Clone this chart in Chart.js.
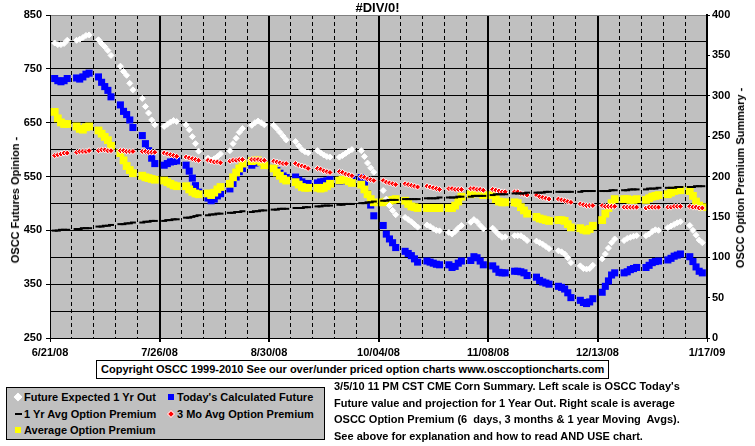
<!DOCTYPE html>
<html>
<head>
<meta charset="utf-8">
<script src="https://cdn.jsdelivr.net/npm/chart.js@4.4.0/dist/chart.umd.min.js"></script>
<style>
  html, body { margin: 0; padding: 0; background: #fff; }
  #wrap { position: relative; width: 755px; height: 446px; overflow: hidden;
          font-family: 'Liberation Sans', Arial, sans-serif; font-weight: bold; font-size: 11px; color: #000; }
  #chart { position: absolute; left: 0; top: 0; }
  .title { position: absolute; left: 0; top: 0; width: 755px; text-align: center; font-size: 13px; line-height: 15px; }
  .ytitle { position: absolute; white-space: nowrap; line-height: 12px; transform: translate(-50%, -50%) rotate(-90deg); }
  .copy { position: absolute; left: 96px; top: 360px; height: 17px; line-height: 17px; padding: 0 4px;
          border: 1px solid #000; background: #fff; white-space: nowrap; }
  .legend { position: absolute; left: 6px; top: 387px; width: 319px; height: 53px; background: #c0c0c0;
            border: 1px solid #000; box-sizing: border-box; padding: 1px 0 0 6px;
            display: grid; grid-template-columns: 153px 160px; grid-auto-rows: 16.5px; }
  .legend-item { display: flex; align-items: center; white-space: nowrap; }
  .legend-mark { width: 10px; height: 10px; display: flex; align-items: center; justify-content: center; margin-right: 1px; }
  .note { position: absolute; left: 334px; top: 378px; line-height: 16.5px; white-space: pre; }
</style>
</head>
<body>
<div id="wrap">
  <canvas id="chart" width="755" height="446"></canvas>
  <div class="title">#DIV/0!</div>
  <div class="ytitle" style="left:15px; top:200px;">OSCC Futures Opinion -</div>
  <div class="ytitle" style="left:740px; top:178px;">OSCC Option Premium Summary -</div>
  <div class="copy">Copyright OSCC 1999-2010 See our over/under priced option charts www.osccoptioncharts.com</div>
  <div class="legend" id="legend"></div>
  <div class="note">3/5/10 11 PM CST CME Corn Summary. Left scale is OSCC Today's
Future value and projection for 1 Year Out. Right scale is average
OSCC Option Premium (6  days, 3 months &amp; 1 year Moving  Avgs).
See above for explanation and how to read AND USE chart.</div>
</div>
<script>
// x axis: days counted from 6/21/08, one tick label every 5 weeks
const xTickLabels = ['6/21/08', '7/26/08', '8/30/08', '10/04/08', '11/08/08', '12/13/08', '1/17/09'];
const weekOffsets = [1.5, 2.5, 3.5, 4.5, 5.5];   // trading days inside each week
const weeks = 30;

// left scale (futures)
const futureExpected = [
  798, 795, 795, 797, 803,   803, 805, 808, 812, 813,   804, 797, 791, 784, 775,
  755, 745, 738, 723, 711,   695, 680, 668, 655, 646,   643, 647, 651, 654, 652,
  646, 637, 624, 611, 597,   584, 580, 583, 587, 592,   598, 611, 621, 632, 639,
  645, 650, 653, 650, 646,   645, 639, 632, 625, 618,   615, 607, 600, 596, 594,
  598, 594, 590, 587, 586,   586, 589, 593, 597, 600,   598, 587, 575, 566, 558,
  524, 508, 496, 487, 479,   474, 470, 466, 461, 456,   460, 457, 453, 450, 449,
  446, 443, 448, 454, 459,   465, 470, 466, 459, 453,   454, 448, 442, 437, 438,
  440, 440, 440, 436, 431,   430, 427, 424, 420, 416,   412, 410, 406, 399, 390,
  384, 379, 378, 379, 385,   397, 406, 417, 427, 434,   431, 435, 437, 439, 440,
  440, 443, 448, 451, 450,   455, 458, 461, 464, 466,   459, 450, 441, 432, 427,
];
const todaysFuture = [
  732, 728, 726, 728, 732,   733, 731, 735, 740, 742,   735, 725, 717, 710, 698,
  683, 671, 665, 655, 641,   626, 611, 598, 584, 574,   571, 574, 577, 578, 579,
  571, 560, 547, 533, 521,   510, 505, 508, 514, 518,   527, 537, 549, 559, 565,
  571, 575, 577, 576, 573,   565, 561, 556, 551, 548,   549, 543, 540, 537, 537,
  538, 540, 541, 542, 544,   541, 542, 544, 545, 545,   548, 538, 518, 497, 477,
  459, 443, 434, 427, 418,   411, 407, 403, 397, 391,   393, 391, 389, 387, 386,
  386, 381, 383, 389, 393,   394, 401, 399, 393, 386,   384, 378, 372, 371, 371,
  374, 374, 373, 371, 366,   363, 357, 354, 352, 350,   346, 344, 341, 334, 325,
  320, 316, 314, 317, 323,   335, 346, 356, 367, 371,   371, 373, 377, 379, 381,
  381, 385, 390, 392, 393,   395, 398, 402, 404, 406,   401, 392, 382, 374, 371,
];

// right scale (option premium)
const yearAvgPremium = [
  133, 133, 134, 134, 134,   135, 135, 136, 136, 136,   138, 138, 139, 139, 140,
  141, 141, 142, 142, 143,   143, 144, 144, 145, 145,   145, 146, 146, 147, 147,
  149, 149, 150, 151, 152,   152, 153, 153, 154, 154,   155, 155, 156, 156, 157,
  156, 157, 157, 158, 158,   159, 159, 160, 160, 160,   161, 161, 161, 162, 162,
  163, 163, 164, 164, 164,   165, 165, 166, 166, 166,   167, 167, 168, 168, 169,
  170, 170, 171, 171, 171,   172, 172, 172, 172, 172,   173, 173, 173, 173, 174,
  174, 174, 174, 175, 175,   175, 176, 176, 176, 176,   177, 178, 178, 178, 178,
  179, 179, 179, 179, 180,   180, 180, 180, 181, 181,   181, 181, 181, 181, 181,
  181, 182, 182, 182, 182,   182, 182, 182, 183, 183,   183, 183, 184, 184, 184,
  184, 185, 185, 185, 186,   186, 186, 186, 187, 187,   187, 187, 188, 188, 188,
];
const monthAvgPremium = [
  226, 227, 228, 229, 229,   230, 231, 231, 231, 232,   232, 233, 233, 232, 232,
  232, 232, 231, 231, 231,   231, 231, 230, 230, 230,   229, 228, 227, 226, 225,
  224, 223, 222, 221, 220,   220, 219, 218, 218, 217,   219, 220, 220, 221, 221,
  221, 221, 221, 220, 220,   219, 218, 217, 216, 216,   216, 214, 213, 212, 210,
  210, 209, 207, 206, 205,   206, 205, 203, 202, 201,   200, 199, 197, 196, 195,
  195, 193, 192, 191, 190,   191, 190, 189, 188, 187,   188, 187, 186, 185, 184,
  185, 185, 184, 184, 184,   185, 185, 184, 184, 183,   184, 183, 182, 181, 181,
  181, 181, 179, 178, 177,   177, 175, 174, 173, 172,   172, 171, 170, 169, 168,
  166, 165, 164, 164, 164,   164, 163, 163, 163, 163,   162, 162, 162, 162, 162,
  161, 162, 162, 162, 162,   162, 162, 163, 163, 163,   163, 162, 162, 161, 161,
];
const avgPremium = [
  280, 272, 267, 265, 265,   262, 259, 258, 261, 262,   257, 253, 249, 245, 238,
  229, 220, 213, 208, 204,   201, 199, 198, 197, 196,   195, 193, 191, 189, 188,
  188, 184, 181, 179, 178,   179, 177, 180, 184, 187,   191, 199, 205, 210, 216,
  219, 220, 220, 218, 214,   210, 205, 201, 197, 195,   193, 190, 187, 186, 186,
  186, 185, 186, 188, 191,   195, 196, 196, 194, 192,   190, 184, 178, 172, 168,
  168, 169, 170, 171, 172,   170, 166, 163, 162, 161,   161, 161, 161, 161, 161,
  161, 161, 164, 169, 175,   178, 180, 180, 179, 177,   177, 172, 169, 168, 168,
  168, 167, 162, 158, 154,   150, 148, 147, 146, 145,   146, 146, 145, 141, 137,
  136, 134, 133, 135, 139,   146, 154, 161, 167, 172,   172, 172, 171, 171, 172,
  171, 173, 175, 176, 177,   178, 180, 182, 183, 183,   182, 176, 169, 164, 162,
];

const FONT = "'Liberation Sans', Arial, sans-serif";

const tradeDays = [];
for (let w = 0; w < weeks; w++) weekOffsets.forEach(k => tradeDays.push(w * 7 + k));
const pts = vals => vals.map((v, i) => ({ x: tradeDays[i], y: v }));

const xGridDays = [];
for (let d = 0; d <= 210; d += 7) xGridDays.push(d);
const leftTicks = [];
for (let v = 250; v <= 850; v += 50) leftTicks.push(v);
const rightTicks = [];
for (let v = 0; v <= 400; v += 50) rightTicks.push(v);

const isMajor = c => c.tick && c.tick.value % 35 === 0;

// gray plot area
const plotBg = {
  id: 'plotBg',
  beforeDraw(chart) {
    const { ctx, chartArea: a } = chart;
    ctx.save();
    ctx.fillStyle = '#c0c0c0';
    ctx.fillRect(a.left, a.top, a.right - a.left, a.bottom - a.top);
    ctx.restore();
  },
};

const tickFont = { family: FONT, size: 11, weight: 'bold' };

const datasets = [
  { label: 'Future Expected 1 Yr Out', data: pts(futureExpected), yAxisID: 'y', order: 3,
    pointStyle: 'rectRot', pointRadius: 3, backgroundColor: '#ffffff', borderColor: '#ffffff', borderWidth: 1 },
  { label: "Today's Calculated Future", data: pts(todaysFuture), yAxisID: 'y', order: 5,
    pointStyle: 'rect', pointRadius: 5, backgroundColor: '#0000ff', borderColor: '#0000ff', borderWidth: 0 },
  { label: '1 Yr Avg Option Premium', data: pts(yearAvgPremium), yAxisID: 'y1', order: 1,
    pointStyle: 'line', pointRadius: 3, backgroundColor: '#000000', borderColor: '#000000', borderWidth: 2 },
  { label: '3 Mo Avg Option Premium', data: pts(monthAvgPremium), yAxisID: 'y1', order: 2,
    pointStyle: 'rectRot', pointRadius: 3, backgroundColor: '#ff0000', borderColor: '#ffffff', borderWidth: 1 },
  { label: 'Average Option Premium', data: pts(avgPremium), yAxisID: 'y1', order: 4,
    pointStyle: 'rect', pointRadius: 5.5, backgroundColor: '#ffff00', borderColor: '#ffff00', borderWidth: 0 },
];
datasets.forEach(d => { d.showLine = false; d.pointHoverRadius = d.pointRadius; });

new Chart(document.getElementById('chart'), {
  type: 'scatter',
  data: { datasets },
  plugins: [plotBg],
  options: {
    responsive: false,
    animation: false,
    events: [],
    layout: { padding: { top: 15, left: 0, right: 0, bottom: 0 } },
    plugins: { legend: { display: false }, tooltip: { enabled: false } },
    scales: {
      x: {
        type: 'linear', min: 0, max: 210,
        afterBuildTicks: s => { s.ticks = xGridDays.map(v => ({ value: v })); },
        afterFit: s => { s.height = 108; },
        ticks: { autoSkip: false, maxRotation: 0, padding: 4, color: '#000', font: tickFont,
                 callback: v => (v % 35 === 0 ? xTickLabels[v / 35] : '') },
        grid: {
          color: '#000',
          lineWidth: c => (isMajor(c) && c.tick.value > 0 && c.tick.value < 210 ? 2 : 1),
          tickLength: 4,
          tickColor: c => (isMajor(c) ? '#000' : 'rgba(0,0,0,0)'),
        },
        border: { color: '#000', width: 1, dash: c => (c.tick && !isMajor(c) ? [4, 3] : []) },
      },
      y: {
        position: 'left', min: 250, max: 850,
        afterBuildTicks: s => { s.ticks = leftTicks.map(v => ({ value: v })); },
        afterFit: s => { s.width = 50; },
        ticks: { padding: 4, color: '#000', font: tickFont,
                 callback: v => ((v - 250) % 100 === 0 ? v : '') },
        grid: {
          color: c => (c.tick && c.tick.value === 850 ? '#808080' : '#000'),
          lineWidth: 1,
          tickLength: 4,
          tickColor: c => (c.tick && (c.tick.value - 250) % 100 === 0 ? '#000' : 'rgba(0,0,0,0)'),
        },
        border: { color: '#000', width: 1 },
      },
      y1: {
        position: 'right', min: 0, max: 400,
        afterBuildTicks: s => { s.ticks = rightTicks.map(v => ({ value: v })); },
        afterFit: s => { s.width = 48; },
        ticks: { padding: 2, color: '#000', font: tickFont },
        grid: { drawOnChartArea: false, color: '#000', tickLength: 3 },
        border: { color: '#000', width: 2 },
      },
    },
  },
});

// legend, two columns like the original
const legend = document.getElementById('legend');
legend.innerHTML = datasets.map(d => {
  let mark;
  if (d.pointStyle === 'rectRot') {
    mark = `<span style="width:4px;height:4px;background:${d.backgroundColor};border:1px solid ${d.borderColor};transform:rotate(45deg)"></span>`;
  } else if (d.pointStyle === 'line') {
    mark = `<span style="width:7px;height:2px;background:${d.borderColor}"></span>`;
  } else {
    mark = `<span style="width:6px;height:6px;background:${d.backgroundColor}"></span>`;
  }
  return `<div class="legend-item"><span class="legend-mark">${mark}</span>${d.label}</div>`;
}).join('');
</script>
</body>
</html>
